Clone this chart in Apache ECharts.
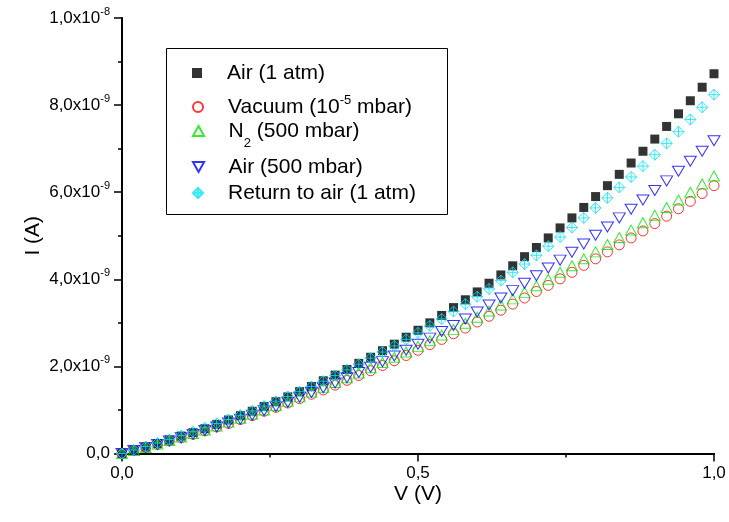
<!DOCTYPE html>
<html><head><meta charset="utf-8">
<script src="https://cdn.jsdelivr.net/npm/echarts@6/dist/echarts.min.js"></script>
<style>html,body{margin:0;padding:0;background:#fff}#c{width:729px;height:522px}</style>
</head><body><div id="c"></div>
<script>
// Voltage (V)
const voltage = [0,0.02,0.04,0.06,0.08,0.1,0.12,0.14,0.16,0.18,0.2,0.22,0.24,0.26,0.28,0.3,0.32,0.34,0.36,0.38,0.4,0.42,0.44,0.46,0.48,0.5,0.52,0.54,0.56,0.58,0.6,0.62,0.64,0.66,0.68,0.7,0.72,0.74,0.76,0.78,0.8,0.82,0.84,0.86,0.88,0.9,0.92,0.94,0.96,0.98,1.0];
// Current in units of 1e-9 A
const airAtm = [0,0.07,0.15,0.23,0.31,0.40,0.48,0.57,0.67,0.77,0.87,0.97,1.08,1.19,1.30,1.42,1.54,1.67,1.80,1.93,2.07,2.21,2.36,2.51,2.67,2.83,3.00,3.17,3.35,3.53,3.71,3.91,4.10,4.31,4.52,4.73,4.95,5.18,5.41,5.65,5.90,6.15,6.41,6.67,6.94,7.22,7.51,7.80,8.10,8.41,8.72];
const vacuum = [0,0.07,0.14,0.21,0.29,0.36,0.44,0.52,0.61,0.69,0.78,0.87,0.97,1.06,1.16,1.26,1.36,1.46,1.57,1.68,1.79,1.90,2.02,2.13,2.25,2.37,2.50,2.62,2.75,2.88,3.02,3.15,3.29,3.43,3.57,3.72,3.86,4.01,4.16,4.32,4.47,4.63,4.79,4.95,5.11,5.28,5.45,5.62,5.79,5.97,6.15];
const n2 = [0,0.07,0.14,0.22,0.30,0.38,0.46,0.54,0.63,0.72,0.81,0.90,1.00,1.10,1.20,1.30,1.41,1.52,1.63,1.74,1.85,1.97,2.09,2.21,2.33,2.46,2.59,2.72,2.85,2.99,3.13,3.27,3.41,3.55,3.70,3.85,4.00,4.16,4.31,4.47,4.63,4.80,4.96,5.13,5.30,5.47,5.65,5.82,6.00,6.19,6.37];
const air500 = [0,0.07,0.14,0.21,0.29,0.36,0.44,0.53,0.61,0.70,0.79,0.88,0.98,1.08,1.18,1.29,1.40,1.51,1.62,1.74,1.86,1.98,2.11,2.24,2.37,2.51,2.65,2.80,2.94,3.09,3.25,3.41,3.57,3.74,3.91,4.08,4.26,4.44,4.62,4.81,5.01,5.20,5.41,5.61,5.82,6.04,6.26,6.48,6.71,6.94,7.18];
const returnAir = [0,0.08,0.16,0.24,0.32,0.41,0.50,0.59,0.69,0.78,0.88,0.98,1.09,1.20,1.31,1.42,1.54,1.66,1.79,1.92,2.05,2.19,2.33,2.47,2.62,2.77,2.93,3.09,3.26,3.43,3.60,3.78,3.97,4.16,4.35,4.55,4.76,4.97,5.19,5.41,5.64,5.87,6.11,6.35,6.60,6.86,7.12,7.39,7.67,7.95,8.24];

const seriesNames = ['Air (1 atm)','Vacuum (10-5 mbar)','N2 (500 mbar)','Air (500 mbar)','Return to air (1 atm)'];
const legendLabels = ['Air (1 atm)','Vacuum (10{sup|-5} mbar)','N{sub|2} (500 mbar)','Air (500 mbar)','Return to air (1 atm)'];
const xTickLabels = ['0,0','0,5','1,0'];
const yTickMantissa = ['0,0','2,0x10','4,0x10','6,0x10','8,0x10','1,0x10'];
const yTickExponent = ['','-9','-9','-9','-9','-8'];

const FONT = 'Liberation Sans, Arial, sans-serif';
const chart = echarts.init(document.getElementById('c'), null, {renderer:'canvas'});

const pairs = arr => voltage.map((v,i)=>[v, arr[i]]);
const seriesData = [airAtm, vacuum, n2, air500, returnAir];
const symbols = [
  {symbol:'path://M0,0 L10,0 L10,10 L0,10 Z', size:9, style:{color:'#000', borderColor:'#000', borderWidth:0}},
  {symbol:'circle', size:10, style:{color:'rgba(0,0,0,0)', borderColor:'#ff0000', borderWidth:1}},
  {symbol:'path://M5,0 L10,9 L0,9 Z', size:[11,10], style:{color:'rgba(0,0,0,0)', borderColor:'#00e600', borderWidth:1}},
  {symbol:'path://M0,0 L10,0 L5,9 Z', size:[12,10], style:{color:'rgba(0,0,0,0)', borderColor:'#0000ff', borderWidth:1}},
  {symbol:'path://M5,0 L10,5 L5,10 L0,5 Z M5,0 L5,10 M0,5 L10,5', size:[11,11], style:{color:'rgba(0,0,0,0)', borderColor:'#00e5ff', borderWidth:1}}
];

const series = seriesNames.map((name,i)=>({
  type:'scatter', name, data:pairs(seriesData[i]),
  symbol:symbols[i].symbol, symbolSize:symbols[i].size, symbolKeepAspect:false,
  itemStyle:symbols[i].style, emphasis:{disabled:true}, z:2+i
}));

const rowCenters = [73, 107, 131, 167, 193];
const LH = 37;
const legends = seriesNames.map((name,i)=>({
  data:[name], left:192, top:rowCenters[i]-LH/2, orient:'vertical', padding:0,
  itemWidth:50, itemHeight:10, selectedMode:false,
  formatter:()=>legendLabels[i],
  textStyle:{fontSize:21, fontFamily:FONT, color:'#000', lineHeight:LH,
    rich:{
      sup:{fontSize:13, fontFamily:FONT, color:'#000', lineHeight:13, padding:[0,0,13,0], verticalAlign:'middle'},
      sub:{fontSize:13, fontFamily:FONT, color:'#000', lineHeight:13, padding:[24,0,0,0], verticalAlign:'middle'}
    }}
}));

const axLine = {show:true, lineStyle:{color:'#000', width:2}};
const tickStyle = {color:'#000', width:1.5};
const option = {
  animation:false,
  backgroundColor:'#fff',
  grid:{left:122, top:18, width:592, height:435.5},
  legend:legends,
  graphic:[{type:'rect', shape:{x:166.5, y:48.5, width:281, height:166}, style:{fill:'none', stroke:'#000', lineWidth:1}, z:100}],
  xAxis:[
    {type:'value', position:'bottom', min:0, max:1, interval:0.5, axisLine:axLine,
     axisTick:{show:true, inside:false, length:8, lineStyle:tickStyle},
     minorTick:{show:true, splitNumber:2, length:4, lineStyle:tickStyle},
     splitLine:{show:false}, minorSplitLine:{show:false},
     axisLabel:{formatter:v=>xTickLabels[Math.round(v/0.5)], fontSize:17, fontFamily:FONT, color:'#000', margin:11},
     name:'V (V)', nameLocation:'middle', nameGap:30, nameMoveOverlap:false, nameTextStyle:{fontSize:21, fontFamily:FONT, color:'#000'}},
    {type:'value', position:'top', min:0, max:1, interval:0.5, axisLine:axLine,
     axisTick:{show:true, inside:true, length:8, lineStyle:tickStyle},
     minorTick:{show:true, splitNumber:2, length:4, lineStyle:tickStyle},
     splitLine:{show:false}, axisLabel:{show:false}}
  ],
  yAxis:[
    {type:'value', position:'left', min:0, max:10, interval:2, axisLine:axLine,
     axisTick:{show:true, inside:false, length:8, lineStyle:tickStyle},
     minorTick:{show:true, splitNumber:2, length:4, lineStyle:tickStyle},
     splitLine:{show:false}, minorSplitLine:{show:false},
     axisLabel:{formatter:v=>{const k=Math.round(v/2); return yTickExponent[k]? '{m|'+yTickMantissa[k]+'}{e|'+yTickExponent[k]+'}' : '{m|'+yTickMantissa[k]+'}';},
       margin:12, color:'#000',
       rich:{m:{fontSize:17, fontFamily:FONT, color:'#000', lineHeight:20},
             e:{fontSize:11, fontFamily:FONT, color:'#000', lineHeight:11, padding:[0,0,12,0], verticalAlign:'middle'}}},
     name:'I (A)', nameLocation:'middle', nameGap:78, nameMoveOverlap:false, nameRotate:90, nameTextStyle:{fontSize:21, fontFamily:FONT, color:'#000'}},
    {type:'value', position:'right', min:0, max:10, interval:2, axisLine:axLine,
     axisTick:{show:true, inside:true, length:8, lineStyle:tickStyle},
     minorTick:{show:true, splitNumber:2, length:4, lineStyle:tickStyle},
     splitLine:{show:false}, axisLabel:{show:false}}
  ],
  series
};
chart.setOption(option);
</script></body></html>
